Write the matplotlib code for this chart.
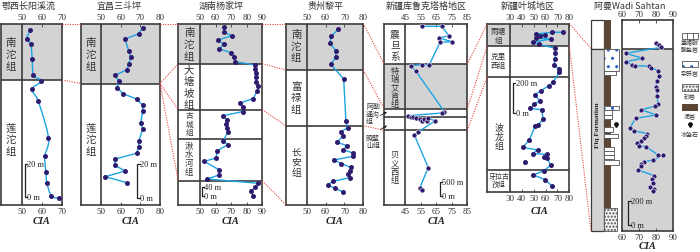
import matplotlib
matplotlib.use('Agg')
import matplotlib.pyplot as plt
from matplotlib.patches import Rectangle
import numpy as np

plt.rcParams['font.family'] = ['Noto Sans CJK SC', 'DejaVu Sans']
SERIF = ['Liberation Serif', 'DejaVu Serif']

# ---------------- data (CIA vs. stratigraphic height, relative units) ----------------
# 鄂西长阳溪流
p1_cia = [54.3, 52.5, 54.5, 55.2, 55.8, 59.8, 55.0, 58.2, 63.3, 61.5, 62.0, 62.5, 64.7, 68.3]
p1_h = [174.5, 165.5, 160.2, 145.2, 129.5, 123.5, 115.2, 103.5, 66.8, 48.2, 32.2, 21.8, 8.5, 6.5]
# 宜昌三斗坪
p2_cia = [71.2, 69.2, 62.2, 64.2, 65.1, 64.2, 63.2, 57.1, 59.2, 58.1, 61.2, 68.1,
          71.2, 71.2, 70.2, 71.2, 69.2, 69.2, 68.1, 57.1, 57.1, 62.2, 52.2, 63.2]
p2_h = [176.8, 170.8, 165.5, 153.2, 147.2, 140.8, 134.8, 129.2, 123.2, 116.8, 110.8, 105.5,
        99.2, 93.5, 81.2, 75.5, 63.5, 57.5, 51.2, 45.5, 39.2, 33.5, 27.8, 21.8]
# 湖南杨家坪
p3_cia = [65.3, 65.3, 70.4, 61.4, 65.1, 62.5, 70.0, 71.9, 72.6,
          85.3, 85.5, 85.7, 85.7, 85.7, 87.4, 86.8, 84.2, 75.9, 77.5, 77.5,
          65.0, 67.1, 66.7, 67.1, 67.8,
          65.0, 67.8, 61.1, 60.3, 52.8, 62.4, 62.0, 54.7,
          87.4, 85.3, 82.7, 84.2]
p3_h = [177.5, 172.5, 168.8, 164.5, 160.2, 155.5, 151.8, 147.2, 142.8,
        139.5, 135.5, 131.5, 127.2, 122.8, 118.2, 113.8, 106.0, 101.5, 97.5, 93.0,
        88.8, 84.8, 80.5, 76.5, 72.2,
        63.8, 59.8, 53.8, 46.5, 43.2, 34.5, 29.5, 25.5,
        21.2, 17.2, 13.2, 8.8]
# 贵州黎平
p4_cia = [66.8, 62.9, 62.4, 65.4, 65.4, 62.7, 69.6, 70.8, 71.7, 68.0, 69.2, 66.1, 71.4,
          69.4, 74.4, 74.6, 64.6, 68.4, 73.3, 73.1, 72.1, 72.9, 63.9, 61.1, 64.8, 69.4]
p4_h = [175.2, 168.2, 161.2, 153.8, 147.2, 140.2, 125.5, 83.2, 76.5, 72.8, 68.8, 62.2, 58.8,
        54.8, 51.5, 48.2, 44.5, 40.8, 37.2, 33.2, 30.2, 26.8, 23.2, 19.8, 16.2, 12.5]
# 新疆库鲁克塔格地区
p5_cia = [55.5, 68.4, 73.2, 66.7, 75.3, 67.4, 60.5, 55.5, 48.4, 51.9,
          70.2, 68.7, 46.5, 48.7, 50.2, 51.9, 54.4, 55.8, 57.3, 58.8,
          59.8, 64.1, 53.0, 50.8, 59.8, 54.5, 55.5]
p5_h = [178.2, 178.2, 168.8, 166.5, 162.8, 162.2, 139.8, 139.8, 138.8, 133.2,
        92.8, 91.5, 88.8, 87.8, 87.2, 86.2, 85.5, 83.8, 85.5, 83.8,
        86.5, 83.5, 72.2, 69.5, 37.0, 17.0, 14.8]
# 新疆叶城地区
p6_cia = [74.5, 65.8, 51.9, 59.2, 55.4, 52.1, 64.4, 49.1, 54.6, 68.3,
          68.3, 68.3, 66.9, 71.5, 71.5, 66.3, 62.8, 56.0, 51.0, 55.1,
          50.5, 46.7, 56.8, 57.9, 53.8, 51.3, 46.4, 40.9, 53.2, 49.1,
          61.4, 58.7, 61.4, 64.2, 58.7, 49.7, 59.8, 65.5]
p6_h = [159.2, 159.2, 157.5, 156.5, 155.2, 153.2, 152.5, 149.2, 147.2, 143.2,
        138.2, 132.5, 126.8, 122.5, 119.2, 109.2, 105.8, 100.8, 96.8, 90.8,
        87.2, 83.2, 81.8, 72.5, 66.5, 65.8, 51.8, 44.2, 41.5, 37.8,
        37.2, 34.2, 33.2, 26.5, 20.8, 16.5, 11.8, 5.2]
p6_extra_cia = [42.3]
p6_extra_h = [29.2]
# 阿曼 Wadi Sahtan
p7_cia = [80.1, 82.1, 83.1, 62.5, 72.2, 62.5, 66.1, 67.9, 76.3, 77.2,
          81.6, 82.0, 80.6, 80.2, 80.6, 80.8, 81.4, 79.6, 71.4, 80.4,
          68.2, 64.9, 67.5, 75.0, 74.1, 72.9, 71.4, 69.2, 70.4, 74.1,
          81.6, 84.1, 78.6, 73.3, 71.5, 71.4, 69.8, 79.2, 77.8, 78.2,
          76.7, 79.0, 78.2]
p7_h = [187.7, 186.0, 183.7, 177.7, 172.7, 169.3, 166.0, 165.5, 164.7, 163.5,
        160.3, 155.3, 150.0, 144.0, 141.0, 135.0, 126.7, 124.7, 121.3, 116.0,
        112.7, 103.3, 100.0, 97.5, 95.3, 92.7, 90.3, 87.7, 85.0, 84.3,
        76.0, 75.7, 71.0, 69.3, 67.5, 65.3, 61.0, 55.3, 52.0, 48.0,
        43.7, 42.0, 39.7]

titles = ['鄂西长阳溪流', '宜昌三斗坪', '湖南杨家坪', '贵州黎平',
          '新疆库鲁克塔格地区', '新疆叶城地区', '阿曼Wadi Sahtan']

# unit boundaries (heights) and grey intervals
p1_bounds, p1_grey = [124.5], [(124.5, 181)]
p2_bounds, p2_grey = [121.0], [(121.0, 181)]
p3_bounds, p3_grey = [140.8, 94.8, 65.5, 23.5], [(140.8, 181)]
p4_bounds, p4_grey = [134.5, 78.8], [(134.5, 181)]
p5_bounds, p5_grey = [140.2, 95.5, 88.0, 74.2], [(95.5, 140.2)]
p6_bounds, p6_grey = [145.8, 115.0, 21.2], [(145.8, 168)]
p7_bounds, p7_grey = [182.5], [(0, 182.5)]

# ---------------- layout (pixels) ----------------
W, H = 700, 253
FRAME = '#3c3c3c'
GREY = '#d3d3d3'
LINE = '#1ca3e3'
DOT = '#2e1b6e'
RED = '#e5483f'
MUD = '#5b4636'

fig = plt.figure(figsize=(7, 2.53), dpi=100)


def catmull(x, y, n=10):
    # smooth curve through the points (drawing only)
    pts = np.column_stack([x, y]).astype(float)
    P = np.vstack([pts[0], pts, pts[-1]])
    out = []
    for i in range(1, len(P) - 2):
        p0, p1, p2, p3 = P[i - 1], P[i], P[i + 1], P[i + 2]
        for t in np.linspace(0, 1, n, endpoint=False):
            out.append(0.5 * (2 * p1 + (-p0 + p2) * t + (2 * p0 - 5 * p1 + 4 * p2 - p3) * t ** 2
                              + (-p0 + 3 * p1 - 3 * p2 + p3) * t ** 3))
    out.append(pts[-1])
    out = np.array(out)
    return out[:, 0], out[:, 1]


def panel(x0, sep, x1, y0, y1, lo, hi, ticks, cia, h, bounds, grey,
          smooth=False, halo=False, extra=None):
    ax = fig.add_axes([x0 / W, 1 - y1 / H, (x1 - x0) / W, (y1 - y0) / H])
    # stratigraphic column sits left of the CIA scale, same axes
    xmin = lo - (sep - x0) / (x1 - sep) * (hi - lo)
    ax.set_xlim(xmin, hi)
    ax.set_ylim(0, y1 - y0)
    for a, b in grey:
        ax.axhspan(a, b, color=GREY, zorder=0, lw=0)
    for b in bounds:
        ax.axhline(b, color=FRAME, lw=1.2, zorder=1)
    if sep > x0:
        ax.axvline(lo, color=FRAME, lw=1.2, zorder=1)
    if smooth:
        sx, sy = catmull(cia, h)
        ax.plot(sx, sy, color=LINE, lw=1.0, zorder=2)
    else:
        ax.plot(cia, h, color=LINE, lw=1.0, zorder=2)
    ax.plot(cia, h, 'o', ms=3.6, color=DOT, mec='white' if halo else DOT,
            mew=0.4 if halo else 0, zorder=3)
    if extra is not None:
        ax.plot(extra[0], extra[1], 'o', ms=3.6, color=DOT, mew=0, zorder=3)
    for s in ax.spines.values():
        s.set_color(FRAME)
        s.set_linewidth(1.2)
    ax.set_xticks(ticks)
    ax.set_xticklabels([str(t) for t in ticks], fontfamily=SERIF, fontsize=6.5, color='#333333')
    ax.tick_params(axis='x', top=True, labeltop=True, bottom=True, labelbottom=True,
                   direction='in', length=2, width=0.6, color=FRAME, pad=1.5)
    ax.set_yticks([])
    ax.set_facecolor('white')
    return ax


panel(0.5, 21.7, 62.0, 24.5, 205.5, 50, 70, [50, 60, 70], p1_cia, p1_h,
      p1_bounds, p1_grey, smooth=True)
panel(81.0, 101.0, 160.0, 24.5, 205.5, 50, 80, [50, 60, 70, 80], p2_cia, p2_h,
      p2_bounds, p2_grey)
panel(178.3, 200.0, 262.3, 24.5, 205.5, 50, 90, [50, 60, 70, 80, 90], p3_cia, p3_h,
      p3_bounds, p3_grey)
panel(285.7, 306.7, 363.3, 24.5, 205.5, 50, 80, [50, 60, 70, 80], p4_cia, p4_h,
      p4_bounds, p4_grey)
panel(384.3, 405.3, 467.3, 24.5, 205.5, 45, 85, [45, 55, 65, 75, 85], p5_cia, p5_h,
      p5_bounds, p5_grey, halo=True)
panel(487.3, 510.0, 569.3, 24.5, 192.5, 30, 80, [30, 40, 50, 60, 70, 80], p6_cia, p6_h,
      p6_bounds, p6_grey, extra=(p6_extra_cia, p6_extra_h))
panel(621.7, 621.7, 672.7, 21.0, 232.0, 60, 90, [60, 70, 80, 90], p7_cia, p7_h,
      p7_bounds, p7_grey, halo=True)

# overlay for labels, connectors, lithology
ov = fig.add_axes([0, 0, 1, 1], zorder=10)
ov.set_xlim(0, W)
ov.set_ylim(H, 0)
ov.axis('off')
ov.patch.set_alpha(0)

title_x = [29, 119, 221, 325, 426, 528, 630]
for tx, tt in zip(title_x, titles):
    ov.text(tx, 6.5, tt, ha='center', va='center', fontsize=6.5, color='#333333')

cia_pos = [(41.8, 222), (130.5, 222), (231, 222), (335, 222), (436.3, 222), (539.7, 212), (647.2, 247)]
for cx, cy in cia_pos:
    ov.text(cx, cy, 'CIA', ha='center', va='center', fontsize=7.5, fontweight='bold',
            fontstyle='italic', family=SERIF, color='#222222')

# stratigraphic unit labels: x, first row y, row step, rows, fontsize
unit_labels = [
    (10.8, 43, 12, list('南沱组'), 7.5),
    (10.8, 128.3, 12, list('莲沱组'), 7.5),
    (91, 43, 12, list('南沱组'), 7.5),
    (91, 128.3, 12, list('莲沱组'), 7.5),
    (189.2, 33, 12, list('南沱组'), 7.5),
    (189.2, 70, 11.7, list('大塘坡组'), 7.5),
    (189.2, 116, 8.7, list('古城组'), 5.5),
    (189.2, 146, 8.7, list('湫水河组'), 6),
    (296.2, 35, 11.7, list('南沱组'), 7.5),
    (296.2, 87, 11.5, list('富禄组'), 7.5),
    (296.2, 153, 10, list('长安组'), 7),
    (394.8, 35, 11.2, list('震旦系'), 7),
    (394.8, 71.5, 8.25, list('特瑞艾肯组'), 6),
    (394.8, 155, 8.5, list('贝义西组'), 6),
    (373, 107, 7.5, ['阿勒', '通沟'], 5),
    (369, 122, 7.5, ['组'], 5),
    (373, 138.5, 8, ['照壁', '山组'], 5),
    (498.7, 31.7, 9, ['雨塘', '组'], 5.5),
    (498.7, 56.7, 9.3, ['克里', '西组'], 5.5),
    (498.7, 128, 9.5, list('波龙组'), 6.5),
    (498.7, 176.7, 8.3, ['牙拉古', '孜组'], 5),
]
for ux, uy, step, rows, fs in unit_labels:
    for i, r in enumerate(rows):
        ov.text(ux, uy + i * step, r, ha='center', va='center', fontsize=fs, color='#333333')

for (ax0, ay0), (ax1, ay1) in [((380.5, 116.5), (387, 112.8)), ((380.5, 130.5), (387, 126.5))]:
    ov.annotate('', xy=(ax1, ay1), xytext=(ax0, ay0),
                arrowprops=dict(arrowstyle='-|>', color='#222222', lw=0.6,
                                mutation_scale=3.5, shrinkA=0, shrinkB=0))

# scale bars
scale_bars = [(24.5, 165, 198, '20 m'), (137.3, 165, 199, '20 m'), (201.7, 188.3, 196.7, '40 m'),
              (440, 182.7, 196.7, '500 m'), (513, 84, 114, '200 m'), (628.3, 201.7, 225.7, '200 m')]
for bx, bt, bb, lab in scale_bars:
    ov.plot([bx + 2.2, bx, bx, bx + 2.2], [bt, bt, bb, bb], color='#222222', lw=0.9)
    ov.text(bx + 2.5, bt, lab, ha='left', va='center', fontsize=6, family=SERIF, color='#222222')
    ov.text(bx + 2.5, bb, '0 m', ha='left', va='center', fontsize=6, family=SERIF, color='#222222')

# red dotted correlation lines
links = [((62, 24.5), (81, 24.5)), ((62, 81), (81, 84.5)),
         ((160, 24.5), (178.3, 24.5)), ((160, 84.5), (178.3, 64.7)),
         ((160, 84.5), (178.3, 110.7)), ((160, 84.5), (178.3, 182)),
         ((262.3, 24.5), (285.7, 24.5)), ((262.3, 64.7), (285.7, 71)),
         ((262.3, 110.7), (285.7, 126.7)), ((262.3, 182), (285.7, 205.5)),
         ((363.3, 24.5), (384.3, 65.3)), ((363.3, 71), (384.3, 110)),
         ((363.3, 126.7), (384.3, 131.3)),
         ((467.3, 65.3), (487.3, 24.5)), ((467.3, 110), (487.3, 46.7)),
         ((467.3, 131.3), (487.3, 77.5)),
         ((569.3, 24.5), (591, 49.5)), ((569.3, 46.7), (591, 232))]
for (lx0, ly0), (lx1, ly1) in links:
    ov.plot([lx0, lx1], [ly0, ly1], color=RED, lw=0.8, ls=(0, (1, 1.2)))

# Oman lithology column
ov.add_patch(Rectangle((591, 21), 13, 28.5, fc='white', ec=FRAME, lw=0.9))
ov.add_patch(Rectangle((591, 49.5), 13, 182.5, fc=GREY, ec=FRAME, lw=0.9))
ov.text(597.5, 125, 'Fiq Formation', rotation=90, ha='center', va='center', fontsize=5.3,
        fontweight='bold', family=SERIF, color='#222222')
ov.add_patch(Rectangle((604.3, 21), 6.3, 187.5, fc=MUD, ec='none'))
ov.add_patch(Rectangle((604.3, 208.5), 12.7, 23.5, fc='#f2f2f2', ec='#555555', lw=0.6,
                       hatch='.....'))
diamict = [(49.5, 71.5, 15), (107, 111, 14.7), (134.5, 138.5, 13.7), (161, 165.5, 14.7)]
for top, bot, wd in diamict:
    ov.add_patch(Rectangle((604.3, top), wd, bot - top, fc='white', ec='#2b5fc4', lw=0,
                           hatch='..'))
    ov.add_patch(Rectangle((604.3, top), wd, bot - top, fc='none', ec='#555555', lw=0.6))
plain = [(71.5, 76, 11.7), (111, 115.5, 7.7), (115.5, 120, 7.7), (128, 132.8, 8.7),
         (147.5, 151.5, 9.7), (151.5, 155.5, 9.7), (155.5, 160, 9.7)]
for top, bot, wd in plain:
    ov.add_patch(Rectangle((604.3, top), wd, bot - top, fc='white', ec='#555555', lw=0.6))
ov.plot([615.8], [124.5], marker='o', ms=2.4, color='#111111')
ov.plot([613.8, 617.8], [125.3, 125.3], color='#111111', lw=0.5)
ov.plot([615.8], [127.3], marker='o', ms=0.9, color='#111111')

# legend
LX0, LX1 = 682, 698
LC = (LX0 + LX1) / 2
ov.add_patch(Rectangle((LX0, 34), LX1 - LX0, 5.5, fc='white', ec='#555555', lw=0.6))
for k in (1, 2):
    ov.plot([LX0 + k * (LX1 - LX0) / 3] * 2, [34, 39.5], color='#555555', lw=0.6)
ov.add_patch(Rectangle((LX0, 61.5), LX1 - LX0, 6.5, fc='white', ec='#2b5fc4', lw=0, hatch='..'))
ov.add_patch(Rectangle((LX0, 61.5), LX1 - LX0, 6.5, fc='none', ec='#555555', lw=0.6))
ov.add_patch(Rectangle((LX0, 85), LX1 - LX0, 6.5, fc='#f2f2f2', ec='#555555', lw=0.6, hatch='.....'))
ov.add_patch(Rectangle((LX0, 105), LX1 - LX0, 6.5, fc=MUD, ec='none'))
ov.plot([LC], [124.5], marker='o', ms=2.4, color='#111111')
ov.plot([LC - 2, LC + 2], [125.3, 125.3], color='#111111', lw=0.5)
ov.plot([LC], [127.3], marker='o', ms=0.9, color='#111111')
legend_text = [(43.3, '盖帽碳'), (49.3, '酸盐岩'), (74, '杂砾岩'), (96, '砂岩'),
               (117.3, '泥岩'), (135, '冰坠石')]
for ly, lt in legend_text:
    ov.text(LC, ly, lt, ha='center', va='center', fontsize=4.3, color='#333333')

fig.savefig('out.png', dpi=100)
